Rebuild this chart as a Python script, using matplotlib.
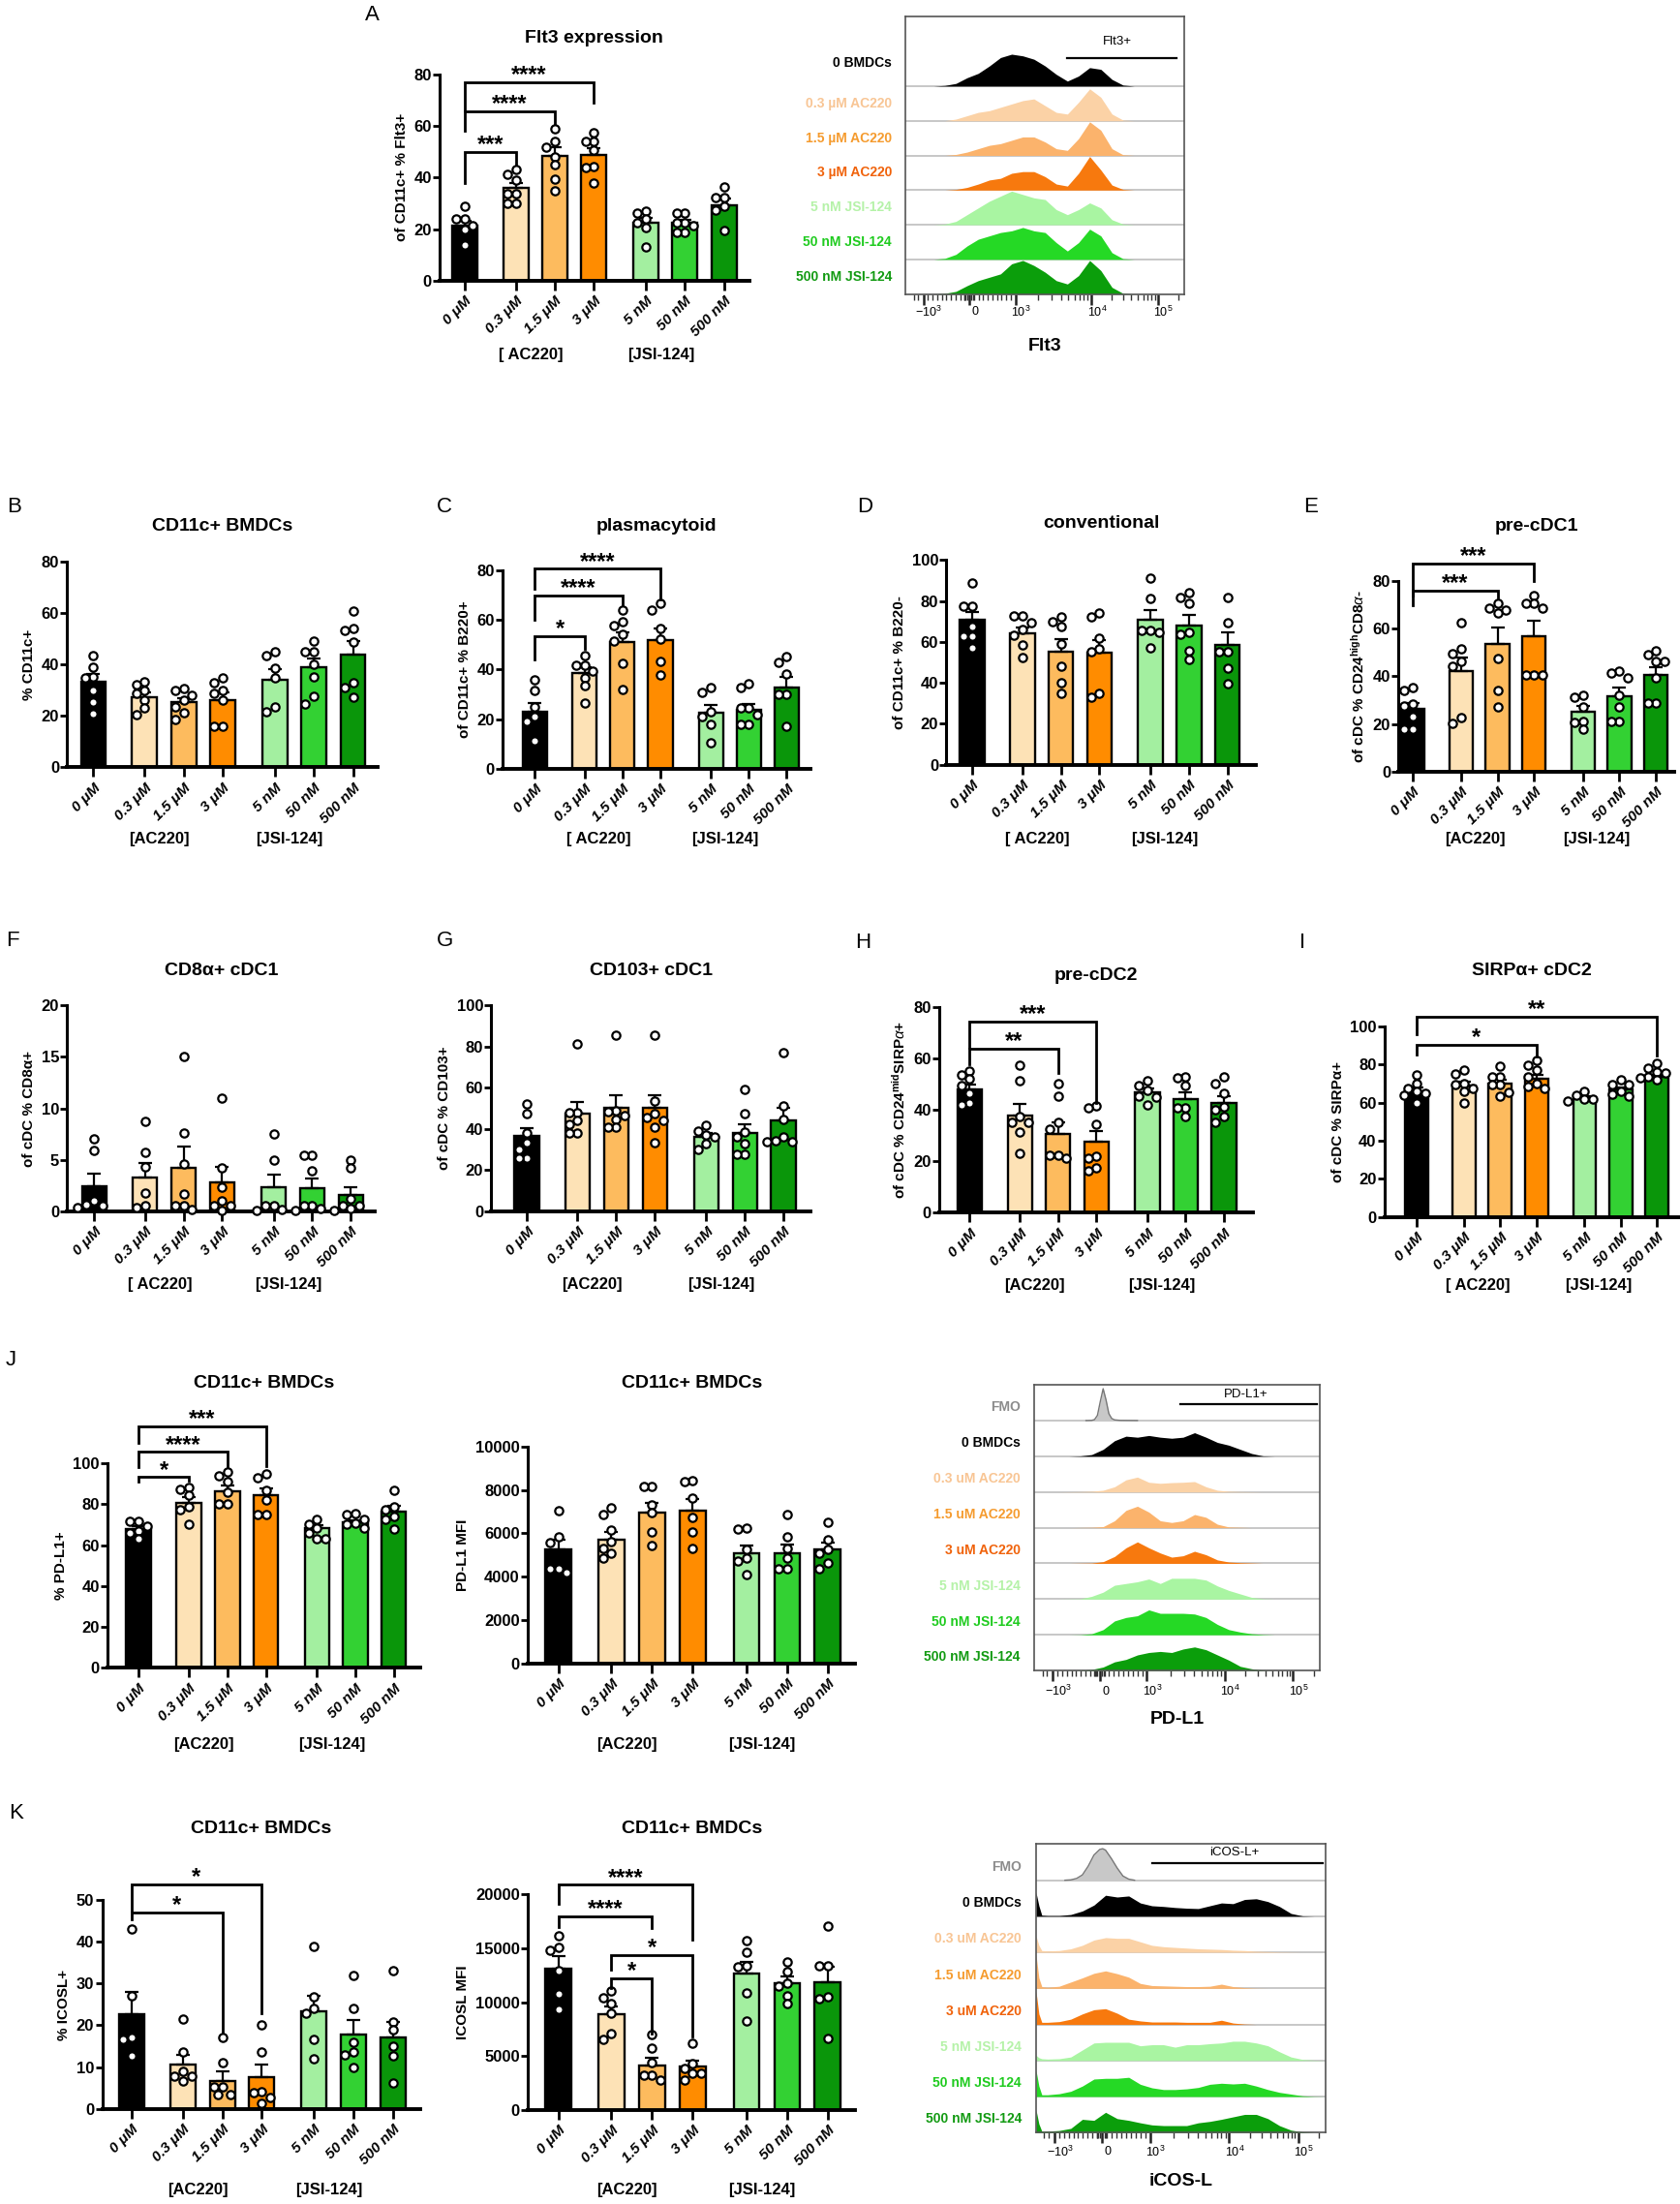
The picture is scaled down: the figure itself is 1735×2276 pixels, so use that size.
import numpy as np
import matplotlib
matplotlib.use('Agg')
import matplotlib.pyplot as plt
from matplotlib.transforms import blended_transform_factory as btf

plt.rcParams['font.family'] = ['Liberation Sans', 'DejaVu Sans']
plt.rcParams['mathtext.fontset'] = 'custom'
plt.rcParams['mathtext.rm'] = 'Liberation Sans'
plt.rcParams['mathtext.bf'] = 'Liberation Sans:bold'
plt.rcParams['mathtext.it'] = 'Liberation Sans:italic'

# ---------------- data ----------------
conditions = ['0 μM', '0.3 μM', '1.5 μM', '3 μM', '5 nM', '50 nM', '500 nM']
bar_colors = ['#000000', '#FDE2B6', '#FDBB5E', '#FF8C00', '#A3EFA0', '#33D133', '#0A960A']

flt3_means = [21.3, 35.9, 48.5, 48.6, 22.4, 22.3, 29.4]
flt3_pts = [[28.8, 23.8, 23.8, 21.3, 20.0, 13.8],
            [43.0, 41.3, 38.8, 33.8, 33.8, 30.0, 30.0],
            [58.8, 54.0, 51.9, 48.0, 45.0, 39.4, 35.0],
            [57.5, 53.8, 53.8, 50.6, 44.4, 43.8, 38.0],
            [26.9, 26.3, 23.8, 22.5, 20.6, 13.0],
            [26.3, 26.3, 22.5, 22.5, 21.3, 18.8, 18.8],
            [36.3, 32.3, 32.3, 28.8, 27.5, 19.4]]
flt3_sig = [(0, 1, 50.0, 38.0, 45.0, '***'), (0, 2, 65.6, 58.0, 60.6, '****'),
            (0, 3, 76.9, 66.0, 68.8, '****')]

b_means = [33.4, 27.3, 25.3, 26.3, 34.2, 38.9, 43.9]
b_pts = [[43.6, 38.9, 35.1, 34.6, 29.8, 25.5, 21.0],
         [33.4, 32.1, 29.8, 28.6, 26.3, 23.0, 20.4],
         [30.8, 29.8, 28.0, 26.3, 23.6, 21.1, 18.6],
         [34.9, 33.0, 29.8, 28.6, 26.1, 15.8, 15.8],
         [45.1, 43.4, 38.6, 34.9, 23.6, 21.7],
         [48.9, 44.9, 44.9, 39.9, 35.1, 27.6, 24.8],
         [60.9, 53.9, 53.4, 48.7, 33.0, 31.1, 27.3]]

c_means = [23.0, 38.5, 50.8, 51.9, 22.4, 23.7, 32.8]
c_pts = [[35.9, 31.4, 24.9, 21.0, 19.1, 11.3],
         [45.7, 41.8, 41.8, 39.2, 36.6, 33.3, 26.5],
         [63.8, 59.2, 57.7, 54.1, 51.5, 42.4, 32.0],
         [66.4, 63.8, 56.3, 52.1, 43.1, 37.9],
         [32.8, 30.9, 23.1, 21.1, 17.9, 10.6],
         [34.1, 32.8, 24.4, 24.4, 21.8, 17.9, 17.9],
         [45.1, 42.8, 38.0, 29.8, 29.8, 17.2]]
c_sig = [(0, 1, 53.4, 44.0, 48.2, '*'), (0, 2, 69.6, 60.0, 65.7, '****'),
         (0, 3, 80.4, 72.6, 68.0, '****')]

d_means = [70.6, 64.3, 55.4, 54.8, 70.6, 68.2, 58.3]
d_pts = [[89.0, 77.5, 77.5, 67.7, 63.0, 63.0, 57.0],
         [72.8, 72.8, 69.6, 66.1, 63.3, 58.3, 52.4],
         [72.4, 69.9, 67.7, 59.0, 48.0, 40.2, 34.6],
         [74.0, 72.1, 61.7, 56.4, 55.1, 35.0, 33.0],
         [91.0, 81.1, 65.7, 65.7, 64.6, 57.0],
         [84.3, 81.9, 79.0, 64.6, 63.8, 55.9, 51.2],
         [81.9, 69.6, 55.1, 55.1, 47.2, 39.4]]

e_means = [26.2, 42.2, 53.6, 57.0, 25.3, 31.8, 40.5]
e_pts = [[35.1, 34.1, 28.4, 27.6, 23.2, 17.8, 17.8],
         [62.4, 51.4, 49.6, 46.2, 44.2, 22.6, 20.3],
         [70.5, 68.5, 67.8, 66.5, 47.3, 34.1, 27.0],
         [73.9, 70.5, 70.5, 68.5, 40.5, 40.5, 40.5],
         [32.0, 31.4, 27.3, 21.2, 20.5, 17.8],
         [42.2, 41.5, 39.5, 32.1, 27.3, 21.2, 21.2],
         [50.9, 49.2, 46.2, 46.2, 39.5, 28.9, 28.9]]
e_sig = [(0, 2, 75.9, 70.0, 73.2, '***'), (0, 3, 87.4, 74.0, 80.0, '***')]

f_means = [2.43, 3.3, 4.26, 2.8, 2.3, 2.27, 1.58]
f_pts = [[7.0, 5.9, 1.0, 0.6, 0.5, 0.4],
         [8.7, 5.7, 4.3, 1.8, 0.5, 0.4],
         [15.0, 7.6, 4.6, 1.7, 0.5, 0.5, 0.2],
         [11.0, 4.2, 2.3, 1.0, 0.5, 0.5, 0.1],
         [7.5, 5.0, 0.5, 0.5, 0.2, 0.1],
         [5.4, 5.4, 3.9, 0.5, 0.5, 0.3, 0.1],
         [5.0, 4.2, 1.2, 0.5, 0.5, 0.3, 0.1]]

g_means = [36.5, 47.6, 50.4, 50.1, 36.2, 38.1, 44.1]
g_pts = [[52.3, 47.2, 37.8, 33.1, 29.9, 26.0, 26.0],
         [81.1, 48.0, 48.0, 44.1, 42.2, 37.8, 37.8],
         [85.4, 48.8, 48.5, 46.5, 44.4, 40.6, 40.6],
         [85.4, 53.5, 47.2, 45.7, 44.1, 40.6, 33.4],
         [42.0, 39.0, 37.0, 36.0, 33.0, 30.0],
         [59.0, 47.6, 38.6, 36.2, 33.0, 27.6, 27.6],
         [77.2, 51.2, 44.4, 36.2, 34.3, 33.9, 33.9]]

h_means = [47.75, 37.75, 30.6, 27.75, 46.9, 44.0, 42.75]
h_pts = [[55.2, 53.4, 52.2, 49.4, 46.2, 42.5, 41.9],
         [57.2, 51.2, 37.5, 35.0, 35.0, 31.2, 23.0],
         [50.0, 45.2, 35.0, 32.5, 22.2, 22.2, 21.2],
         [41.5, 40.6, 34.4, 21.9, 21.2, 17.5, 16.2],
         [51.2, 49.4, 47.5, 45.2, 45.0, 41.9],
         [52.8, 52.5, 49.4, 40.6, 40.6, 37.5],
         [52.8, 50.0, 46.5, 41.2, 40.0, 37.5, 35.0]]
h_sig = [(0, 2, 63.75, 57.5, 54.4, '**'), (0, 3, 74.4, 64.0, 42.5, '***')]

i_means = [66.0, 69.0, 70.2, 72.3, 62.6, 66.8, 73.6]
i_pts = [[74.4, 70.0, 67.5, 65.8, 65.0, 63.6, 60.0],
         [77.0, 75.2, 70.2, 69.3, 67.6, 65.9, 60.0],
         [79.0, 73.6, 73.6, 69.3, 69.3, 65.4, 63.3],
         [82.4, 79.6, 77.0, 73.6, 70.2, 68.5, 67.6],
         [66.0, 63.8, 61.7, 61.7, 60.9],
         [72.0, 69.3, 69.3, 66.0, 64.3, 63.4],
         [80.4, 78.0, 76.2, 75.3, 73.6, 72.8, 72.0]]
i_sig = [(0, 3, 90.5, 85.0, 84.2, '*'), (0, 6, 105.0, 96.0, 84.6, '**')]

j1_means = [67.9, 80.7, 86.3, 84.2, 68.4, 71.1, 76.3]
j1_pts = [[71.6, 71.6, 69.2, 66.8, 66.0, 62.9],
          [88.2, 87.4, 84.2, 78.7, 77.1, 70.0],
          [95.6, 94.0, 91.0, 86.0, 80.0, 80.0],
          [95.0, 93.0, 87.0, 82.0, 75.0, 75.0],
          [72.4, 70.0, 68.4, 66.0, 63.2, 62.9],
          [75.5, 74.7, 72.4, 70.8, 70.0, 68.4],
          [86.9, 78.7, 77.1, 74.0, 72.4, 67.6]]
j1_sig = [(0, 1, 93.2, 91.0, 91.3, '*'), (0, 2, 105.5, 98.0, 98.4, '****'),
          (0, 3, 118.0, 110.0, 98.4, '***')]

j2_means = [5245, 5721, 6954, 7058, 5097, 5097, 5245]
j2_pts = [[7029, 5840, 5572, 4354, 4354, 4200],
          [7177, 6880, 6137, 5617, 5320, 5097, 4874],
          [8143, 8143, 7326, 6954, 6063, 5424],
          [8440, 8366, 7623, 6731, 6063, 5320],
          [6256, 6211, 5245, 4874, 4725, 4086],
          [6880, 5840, 5320, 4874, 4354, 4354],
          [6508, 5691, 5245, 5097, 4651, 4354]]

k1_means = [22.6, 10.6, 6.7, 7.5, 23.3, 17.8, 17.0]
k1_pts = [[43.0, 27.0, 17.2, 16.6, 12.8],
          [21.5, 13.7, 8.9, 7.7, 7.7, 6.6],
          [17.2, 11.0, 5.2, 5.2, 3.5, 3.5],
          [20.1, 13.5, 4.1, 3.9, 2.7, 1.3],
          [39.0, 26.9, 24.0, 22.8, 16.6, 12.1],
          [32.0, 24.0, 16.0, 13.7, 13.0, 9.8],
          [33.2, 20.9, 19.0, 15.1, 12.8, 6.2]]
k1_sig = [(0, 2, 47.0, 45.5, 18.2, '*'), (0, 3, 53.7, 47.5, 22.8, '*')]

k2_means = [13153, 8889, 4144, 4084, 12643, 11802, 11892]
k2_pts = [[16216, 15105, 14805, 12913, 10751, 9309],
          [11051, 10450, 9850, 8949, 7147, 6547],
          [6997, 5796, 4444, 3243, 3243, 2793],
          [6186, 4294, 3844, 3393, 3393, 2793],
          [15706, 14655, 13393, 13303, 10901, 8288],
          [13754, 12853, 11802, 11502, 10601, 9850],
          [17057, 13393, 13393, 10511, 10300, 6697]]
k2_sig = [(0, 2, 17958, 17000, 16900, '****'), (0, 3, 20900, 19160, 15856, '****'),
          (1, 3, 14414, 13000, 6800, '*'), (1, 2, 12192, 11300, 7100, '*')]

# ---- flow histograms (relative heights read along the display axis) ----
flt3_labels = ['0 BMDCs', '0.3 µM AC220', '1.5 µM AC220', '3 µM AC220',
               '5 nM JSI-124', '50 nM JSI-124', '500 nM JSI-124']
flt3_x = [0.10, 0.14, 0.18, 0.22, 0.26, 0.30, 0.34, 0.38, 0.42, 0.46, 0.50,
          0.54, 0.58, 0.62, 0.66, 0.70, 0.74, 0.78, 0.82]
flt3_rows = [[0, 0.02, 0.08, 0.25, 0.38, 0.6, 0.85, 0.95, 0.9, 0.8, 0.6, 0.35, 0.15, 0.3, 0.55, 0.5, 0.2, 0.03, 0],
             [0, 0, 0.05, 0.15, 0.25, 0.3, 0.4, 0.5, 0.6, 0.65, 0.45, 0.25, 0.2, 0.55, 0.95, 0.7, 0.2, 0.02, 0],
             [0, 0, 0.03, 0.1, 0.2, 0.3, 0.35, 0.45, 0.55, 0.55, 0.4, 0.2, 0.15, 0.5, 1.0, 0.75, 0.2, 0.02, 0],
             [0, 0, 0.02, 0.08, 0.18, 0.3, 0.35, 0.5, 0.55, 0.55, 0.4, 0.18, 0.12, 0.5, 1.0, 0.6, 0.15, 0.02, 0],
             [0, 0.02, 0.1, 0.3, 0.5, 0.7, 0.85, 1.0, 0.9, 0.8, 0.75, 0.45, 0.3, 0.45, 0.65, 0.5, 0.15, 0.02, 0],
             [0, 0.03, 0.15, 0.4, 0.6, 0.7, 0.8, 0.85, 0.95, 0.85, 0.8, 0.5, 0.25, 0.5, 0.9, 0.7, 0.2, 0.02, 0],
             [0, 0.02, 0.08, 0.25, 0.4, 0.5, 0.6, 0.9, 1.0, 0.85, 0.65, 0.4, 0.3, 0.55, 1.0, 0.7, 0.2, 0.02, 0]]

pdl1_labels = ['FMO', '0 BMDCs', '0.3 uM AC220', '1.5 uM AC220', '3 uM AC220',
               '5 nM JSI-124', '50 nM JSI-124', '500 nM JSI-124']
pdl1_x = [0.00, 0.04, 0.08, 0.12, 0.16, 0.20, 0.24, 0.28, 0.32, 0.36, 0.40, 0.44, 0.48,
          0.52, 0.56, 0.60, 0.64, 0.68, 0.72, 0.76, 0.80, 0.84, 0.88, 0.92, 0.96, 1.00]
pdl1_fmo_x = [0.18, 0.20, 0.21, 0.22, 0.23, 0.24, 0.25, 0.26, 0.27, 0.28, 0.30, 0.36]
pdl1_fmo_y = [0, 0.005, 0.03, 0.15, 0.55, 0.92, 0.6, 0.2, 0.06, 0.02, 0.005, 0]
pdl1_rows = [[0, 0, 0, 0, 0.01, 0.05, 0.2, 0.45, 0.58, 0.55, 0.6, 0.55, 0.52, 0.55, 0.68, 0.55, 0.4, 0.32, 0.2, 0.08, 0.01, 0, 0, 0, 0, 0],
             [0, 0, 0, 0.005, 0.01, 0.02, 0.05, 0.15, 0.35, 0.43, 0.28, 0.25, 0.27, 0.28, 0.3, 0.15, 0.05, 0.02, 0.01, 0.005, 0, 0, 0, 0, 0, 0],
             [0, 0, 0, 0, 0.005, 0.01, 0.03, 0.2, 0.5, 0.62, 0.45, 0.2, 0.15, 0.2, 0.38, 0.3, 0.1, 0.02, 0.01, 0, 0, 0, 0, 0, 0, 0],
             [0, 0, 0, 0, 0.005, 0.01, 0.05, 0.2, 0.45, 0.62, 0.45, 0.3, 0.18, 0.22, 0.35, 0.25, 0.1, 0.04, 0.02, 0.01, 0, 0, 0, 0, 0, 0],
             [0, 0, 0, 0.005, 0.01, 0.08, 0.2, 0.4, 0.45, 0.5, 0.58, 0.45, 0.6, 0.6, 0.6, 0.55, 0.38, 0.25, 0.15, 0.05, 0.01, 0, 0, 0, 0, 0],
             [0, 0, 0, 0, 0.005, 0.03, 0.15, 0.4, 0.5, 0.55, 0.72, 0.62, 0.62, 0.62, 0.6, 0.5, 0.3, 0.15, 0.08, 0.03, 0.01, 0, 0, 0, 0, 0],
             [0, 0, 0, 0, 0.005, 0.03, 0.1, 0.25, 0.32, 0.45, 0.52, 0.55, 0.52, 0.62, 0.68, 0.6, 0.45, 0.3, 0.12, 0.05, 0.01, 0, 0, 0, 0, 0]]

icosl_labels = pdl1_labels
icosl_x = [0.0, 0.01, 0.02, 0.04, 0.08, 0.12, 0.16, 0.20, 0.24, 0.28, 0.32, 0.36, 0.40, 0.44,
           0.48, 0.52, 0.56, 0.60, 0.64, 0.68, 0.72, 0.76, 0.80, 0.84, 0.88, 0.92, 0.96, 1.0]
icosl_fmo_x = [0.10, 0.12, 0.14, 0.16, 0.18, 0.20, 0.22, 0.23, 0.24, 0.26, 0.28, 0.30, 0.32, 0.34]
icosl_fmo_y = [0, 0.01, 0.05, 0.15, 0.4, 0.72, 0.88, 0.9, 0.86, 0.62, 0.35, 0.12, 0.03, 0]
icosl_rows = [[0.68, 0.3, 0.03, 0.02, 0.02, 0.05, 0.15, 0.32, 0.6, 0.55, 0.58, 0.38, 0.3, 0.28, 0.25, 0.23, 0.22, 0.3, 0.38, 0.36, 0.48, 0.5, 0.42, 0.28, 0.08, 0.01, 0, 0],
              [0.47, 0.2, 0.05, 0.04, 0.05, 0.1, 0.2, 0.35, 0.42, 0.4, 0.4, 0.3, 0.2, 0.16, 0.14, 0.12, 0.1, 0.09, 0.08, 0.06, 0.05, 0.03, 0.02, 0.01, 0.005, 0, 0, 0],
              [0.97, 0.3, 0.05, 0.03, 0.06, 0.18, 0.3, 0.43, 0.5, 0.42, 0.32, 0.14, 0.08, 0.07, 0.06, 0.05, 0.05, 0.06, 0.12, 0.05, 0.02, 0.005, 0, 0, 0, 0, 0, 0],
              [0.95, 0.3, 0.06, 0.06, 0.08, 0.15, 0.3, 0.42, 0.45, 0.32, 0.15, 0.1, 0.07, 0.07, 0.07, 0.06, 0.06, 0.06, 0.12, 0.04, 0.01, 0, 0, 0, 0, 0, 0, 0],
              [0.15, 0.08, 0.05, 0.04, 0.05, 0.1, 0.3, 0.5, 0.52, 0.52, 0.52, 0.42, 0.45, 0.45, 0.38, 0.45, 0.45, 0.48, 0.5, 0.55, 0.55, 0.5, 0.42, 0.25, 0.1, 0.03, 0.01, 0],
              [0.75, 0.3, 0.05, 0.05, 0.08, 0.15, 0.3, 0.5, 0.52, 0.52, 0.55, 0.35, 0.25, 0.2, 0.2, 0.22, 0.26, 0.35, 0.38, 0.36, 0.38, 0.3, 0.2, 0.12, 0.07, 0.02, 0.005, 0],
              [0.65, 0.25, 0.04, 0.04, 0.06, 0.12, 0.38, 0.35, 0.58, 0.4, 0.35, 0.28, 0.22, 0.2, 0.2, 0.2, 0.28, 0.32, 0.38, 0.45, 0.52, 0.52, 0.4, 0.2, 0.07, 0.02, 0, 0]]

hist_lab_cols = ['#000000', '#F8C594', '#F59B2E', '#F0620A', '#B5F2A8', '#1FCB1F', '#129A12']
hist_fill_cols = ['#000000', '#FBD2A6', '#FBB36C', '#F7790E', '#A9F5A2', '#25D925', '#0B9E0B']
flow_ticklabels = ['$-10^{3}$', '0', '$10^{3}$', '$10^{4}$', '$10^{5}$']

# ---------------- layout helpers ----------------
W, H = 1200.0, 1574.0
fig = plt.figure(figsize=(17.35, 22.76), dpi=100)

def rect(l, t, r, b):
    return [l / W, 1 - b / H, (r - l) / W, (b - t) / H]

def fy(y):
    return 1 - y / H

def fx(x):
    return x / W

positions = [0, 1.31, 2.31, 3.31, 4.64, 5.64, 6.64]


def swarm(v, sy, sx, diam=6.0):
    offs = np.zeros(len(v))
    order = np.argsort(-np.asarray(v), kind='stable')
    placed = []
    cands = [0.0, -1.0, 1.0, -0.5, 0.5, -1.5, 1.5, -2.0, 2.0]
    for idx in order:
        yp = v[idx] * sy
        xp = 0.0
        for c in cands:
            xp = c * diam
            if all((xp - px) ** 2 + (yp - py) ** 2 >= (0.9 * diam) ** 2 for px, py in placed):
                break
        placed.append((xp, yp))
        offs[idx] = xp / sx
    return offs


def bar_panel(l, t, r, b, xl, xr, means, pts, ymax, ystep, ylabel, title, title_y,
              grp, grp_y, sig=()):
    ax = fig.add_axes(rect(l, t, r, b))
    ax.set_xlim(xl, xr)
    ax.set_ylim(0, ymax)
    sx = (r - l) / (xr - xl)
    sy = (b - t) / ymax
    for k in range(7):
        v = np.array(pts[k], float)
        sem = v.std(ddof=1) / np.sqrt(len(v))
        ax.bar(positions[k], means[k], width=0.64, color=bar_colors[k],
               edgecolor='black', linewidth=1.7, zorder=2)
        ax.errorbar(positions[k], means[k], yerr=[[0], [sem]], fmt='none',
                    ecolor='black', elinewidth=1.6, capsize=5, capthick=1.6, zorder=3)
        offs = swarm(v, sy, sx)
        ax.plot(positions[k] + offs, v, 'o', ms=6.0, mfc='white', mec='black',
                mew=1.6, zorder=4, clip_on=False)
    for s in ['top', 'right']:
        ax.spines[s].set_visible(False)
    ax.spines['left'].set_linewidth(2.2)
    ax.spines['bottom'].set_linewidth(2.8)
    ax.spines['left'].set_bounds(0, ymax)
    yt = np.arange(0, ymax + 1e-9, ystep)
    ax.set_yticks(yt)
    ax.set_yticklabels(['{:d}'.format(int(round(x))) for x in yt], fontsize=12,
                       fontweight='bold')
    ax.tick_params(axis='y', length=5, width=2, pad=1)
    ax.set_xticks(positions)
    ax.set_xticklabels(conditions, rotation=45, ha='right', rotation_mode='anchor',
                       fontsize=11, fontweight='bold', fontstyle='italic')
    ax.tick_params(axis='x', length=7, width=2, pad=3)
    ax.set_ylabel(ylabel, fontsize=11, fontweight='bold', labelpad=4)
    fig.text(fx((l + r) / 2), fy(title_y), title, ha='center', va='center',
             fontsize=14, fontweight='bold')
    tr = btf(ax.transData, fig.transFigure)
    for text, i0, i1 in grp:
        xm = np.mean(positions[i0:i1 + 1]) - 0.62
        ax.text(xm, fy(grp_y), text, transform=tr, ha='center', va='center',
                fontsize=12, fontweight='bold')
    for (i, j, hgt, lb, rb, lab) in sig:
        xi, xj = positions[i], positions[j]
        ax.plot([xi, xi, xj, xj], [lb, hgt, hgt, rb], color='black', lw=2.0,
                clip_on=False, zorder=5, solid_joinstyle='miter')
        ax.text((xi + xj) / 2, hgt + ymax * 0.004, lab, ha='center', va='baseline',
                fontsize=17, fontweight='bold', clip_on=False)
    return ax


def flow_panel(l, t, r, b, labels, lab_cols, fill_cols, row_xs, row_ys, heights,
               label_frac, gate, xlabel, tick_y, xlabel_y):
    ax = fig.add_axes(rect(l, t, r, b))
    n = len(labels)
    tot = sum(heights)
    ax.set_xlim(0, 1)
    ax.set_ylim(0, tot)
    bottoms = []
    acc = tot
    for hh in heights:
        acc -= hh
        bottoms.append(acc)
    trl = btf(ax.transAxes, ax.transData)
    for ri in range(n):
        y0 = bottoms[ri]
        xs = np.array(row_xs[ri], float)
        ys = np.array(row_ys[ri], float)
        ax.fill_between(xs, y0, y0 + ys * 0.97, color=fill_cols[ri], lw=0, zorder=2)
        if labels[ri] == 'FMO':
            ax.plot(xs, y0 + ys * 0.97, color='#777777', lw=1.0, zorder=3)
        if ri < n - 1:
            ax.axhline(y0, color='#BDBDBD', lw=1.2, zorder=1)
        ly = y0 + (0.68 if heights[ri] > 1 else label_frac)
        ax.text(-0.05, ly, labels[ri], color=lab_cols[ri], transform=trl,
                ha='right', va='center', fontsize=10, fontweight='bold')
    g0, g1, gy, glab, gly, glx = gate
    ax.plot([g0, g1], [bottoms[0] + gy] * 2, color='black', lw=1.6, zorder=4)
    ax.text(glx, bottoms[0] + gly, glab, ha='center', va='center', fontsize=9.5)
    majors = [0.063, 0.228, 0.393, 0.666, 0.905]
    minors = []
    for k in range(2, 10):
        minors += [0.393 + 0.273 * np.log10(k), 0.666 + 0.239 * np.log10(k)]
        p = 0.905 + 0.239 * np.log10(k)
        if p < 0.995:
            minors.append(p)
    for k in range(1, 10):
        minors += [0.228 + 0.165 * k / 10.0, 0.228 - 0.165 * k / 10.0]
    minors += [0.063 - 0.02, 0.063 - 0.035, 0.21, 0.215, 0.22, 0.236, 0.242]
    ax.set_xticks(majors)
    ax.set_xticklabels([''] * 5)
    ax.set_xticks(sorted(minors), minor=True)
    ax.tick_params(axis='x', which='major', length=8, width=1.8, color='#222222')
    ax.tick_params(axis='x', which='minor', length=4, width=1.0, color='#333333')
    ax.set_yticks([])
    trx = btf(ax.transData, fig.transFigure)
    for xm, tl in zip(majors, flow_ticklabels):
        ax.text(xm + 0.02, fy(tick_y), tl, transform=trx, ha='center', va='center',
                fontsize=9)
    for s in ax.spines.values():
        s.set_color('#555555')
        s.set_linewidth(1.2)
    fig.text(fx((l + r) / 2), fy(xlabel_y), xlabel, ha='center', va='center',
             fontsize=14, fontweight='bold')
    return ax


grp_a = [('[ AC220]', 1, 3), ('[JSI-124]', 4, 6)]
grp_b = [('[AC220]', 1, 3), ('[JSI-124]', 4, 6)]

# ---- Row A ----
bar_panel(314, 53, 535, 200.5, -0.64, 7.28, flt3_means, flt3_pts, 80, 20,
          'of CD11c+ % Flt3+', 'Flt3 expression', 27, grp_a, 253.5, flt3_sig)
flow_panel(647, 12, 846, 210, flt3_labels, hist_lab_cols, hist_fill_cols,
           [flt3_x] * 7, flt3_rows, [2, 1, 1, 1, 1, 1, 1], 0.5,
           (0.58, 0.97, 0.81, 'Flt3+', 1.28, 0.76), 'Flt3', 223, 247)

# ---- Row B-E ----
bar_panel(48, 401, 270, 548, -0.67, 7.28, b_means, b_pts, 80, 20, '% CD11c+',
          'CD11c+ BMDCs', 376, grp_b, 599)
bar_panel(359, 407, 579, 549, -0.85, 7.27, c_means, c_pts, 80, 20, 'of CD11c+ % B220+',
          'plasmacytoid', 376, grp_a, 599, c_sig)
bar_panel(676, 400, 897, 546, -0.67, 7.38, d_means, d_pts, 100, 20, 'of CD11c+ % B220-',
          'conventional', 374, grp_a, 599)
bar_panel(999, 415, 1196, 551, -0.39, 7.14, e_means, e_pts, 80, 20,
          r'of cDC % CD24$^{\mathbf{high}}$CD8$\alpha$-', 'pre-cDC1', 376, grp_b, 599, e_sig)

# ---- Row F-I ----
bar_panel(48, 718, 268, 865, -0.70, 7.27, f_means, f_pts, 20, 5, 'of cDC % CD8α+',
          'CD8α+ cDC1', 693, grp_a, 917.5)
bar_panel(351, 718, 579, 865, -0.92, 7.34, g_means, g_pts, 100, 20, 'of cDC % CD103+',
          'CD103+ cDC1', 693, grp_b, 917.5)
bar_panel(671, 719, 895, 866, -0.79, 7.40, h_means, h_pts, 80, 20,
          r'of cDC % CD24$^{\mathbf{mid}}$SIRP$\alpha$+', 'pre-cDC2', 697, grp_b, 918, h_sig)
bar_panel(989, 733, 1199, 869, -0.89, 7.24, i_means, i_pts, 100, 20, 'of cDC % SIRPα+',
          'SIRPα+ cDC2', 693, grp_a, 918, i_sig)

# ---- Row J ----
bar_panel(77, 1045, 300, 1191, -0.80, 7.32, j1_means, j1_pts, 100, 20, '% PD-L1+',
          'CD11c+ BMDCs', 988, grp_b, 1246, j1_sig)
bar_panel(377, 1033, 611, 1188, -0.75, 7.32, j2_means, j2_pts, 10000, 2000, 'PD-L1 MFI',
          'CD11c+ BMDCs', 988, grp_b, 1246)
flow_panel(739, 989, 943, 1193, pdl1_labels, ['#8C8C8C'] + hist_lab_cols,
           ['#C8C8C8'] + hist_fill_cols, [pdl1_fmo_x] + [pdl1_x] * 7,
           [pdl1_fmo_y] + pdl1_rows, [1] * 8, 0.37,
           (0.51, 0.99, 0.46, 'PD-L1+', 0.72, 0.74), 'PD-L1', 1208, 1228)

# ---- Row K ----
bar_panel(73, 1357, 300, 1506, -0.74, 7.33, k1_means, k1_pts, 50, 10, '% ICOSL+',
          'CD11c+ BMDCs', 1306, grp_b, 1564, k1_sig)
bar_panel(377, 1353, 611, 1507, -0.75, 7.32, k2_means, k2_pts, 20000, 5000, 'ICOSL MFI',
          'CD11c+ BMDCs', 1306, grp_b, 1564, k2_sig)
flow_panel(740, 1317, 947, 1523, icosl_labels, ['#8C8C8C'] + hist_lab_cols,
           ['#C8C8C8'] + hist_fill_cols, [icosl_fmo_x] + [icosl_x] * 7,
           [icosl_fmo_y] + icosl_rows, [1] * 8, 0.37,
           (0.40, 0.99, 0.47, 'iCOS-L+', 0.77, 0.685), 'iCOS-L', 1537, 1558)

# ---- panel letters ----
for letter, x, y in [('A', 261, 11), ('B', 5, 362), ('C', 312, 362), ('D', 612, 362),
                     ('E', 931, 362), ('F', 4, 672), ('G', 312, 672), ('H', 611, 673),
                     ('I', 928, 673), ('J', 4, 971), ('K', 6, 1295)]:
    fig.text(fx(x), fy(y), letter, ha='left', va='center', fontsize=16)

fig.savefig('out.png', dpi=100)
